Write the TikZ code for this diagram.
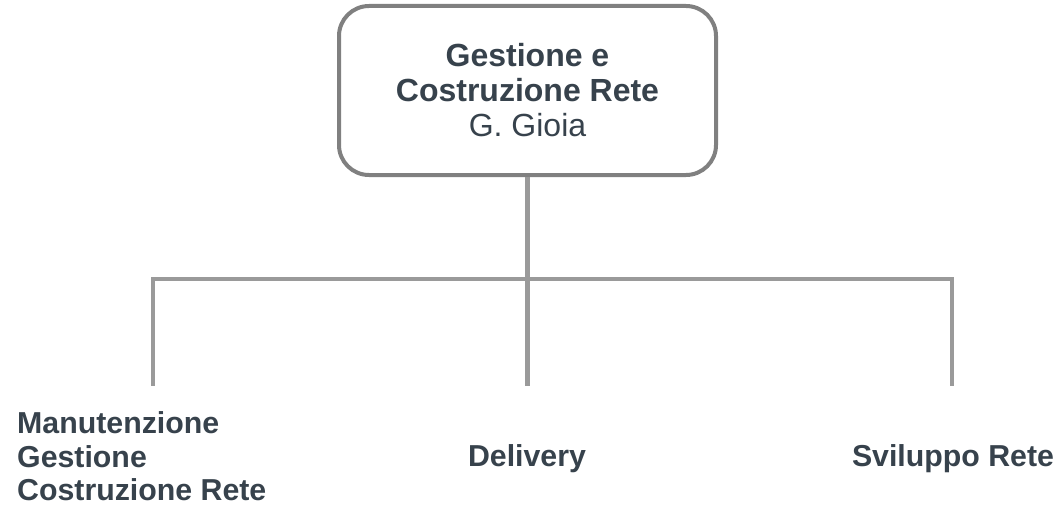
\documentclass[tikz,border=0pt]{standalone}
\usepackage{fontspec}
\setmainfont{Liberation Sans}
\definecolor{txt}{HTML}{37424C}
\definecolor{boxline}{HTML}{808080}
\definecolor{conn}{HTML}{9A9A9A}
\begin{document}
\begin{tikzpicture}[x=1pt,y=-1pt,
  bossbox/.style={draw=boxline, line width=4pt, rounded corners=30pt, fill=white,
    minimum width=377pt, minimum height=169pt, align=center, text=txt,
    font=\fontsize{32}{35}\selectfont, inner sep=0pt},
  leaf/.style={text=txt, inner sep=0pt, font=\fontsize{30.3}{33.5}\selectfont\bfseries},
  connector/.style={draw=conn, line width=4.5pt}]
\useasboundingbox (0,0) rectangle (1064,513);
\node[bossbox] (boss) at (527.5,90.5) {\textbf{Gestione e}\\\textbf{Costruzione Rete}\\G. Gioia};
\coordinate (busL) at (153,279);
\coordinate (busR) at (952,279);
\coordinate (busM) at (boss.south |- busL);
\coordinate (e1) at (153,386);
\coordinate (e2) at (527.5,386);
\coordinate (e3) at (952,386);
\draw[connector] (boss.south) -- (busM);
\draw[connector, line cap=rect] (busL) -- (busR);
\draw[connector] (busL) -- (e1);
\draw[connector] (busM) -- (e2);
\draw[connector] (busR) -- (e3);
\node[leaf, anchor=north west, align=left] (n1) at (17,411.5) {Manutenzione\\Gestione\\Costruzione Rete};
\node[leaf, anchor=base] (n2) at (527,466) {Delivery};
\node[leaf, anchor=base] (n3) at (953,466) {Sviluppo Rete};
\end{tikzpicture}
\end{document}
